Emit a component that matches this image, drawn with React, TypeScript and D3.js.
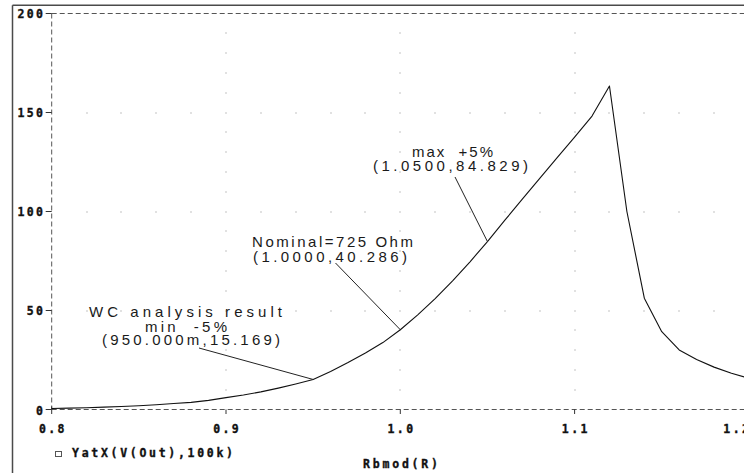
import React from "react";
import * as d3 from "d3";

// ---- data ----
const rbmod: number[] = [
  0.8, 0.81, 0.82, 0.83, 0.84, 0.85, 0.86, 0.87, 0.88, 0.89,
  0.9, 0.91, 0.92, 0.93, 0.94, 0.95, 0.96, 0.97, 0.98, 0.99,
  1.0, 1.01, 1.02, 1.03, 1.04, 1.05, 1.06, 1.07, 1.08, 1.09,
  1.1, 1.11, 1.12, 1.13, 1.14, 1.15, 1.16, 1.17, 1.18, 1.19, 1.2,
];
const yatx: number[] = [
  0.5, 0.7, 0.9, 1.2, 1.5, 1.9, 2.4, 3.0, 3.6, 4.6,
  6.0, 7.3, 8.9, 10.8, 12.9, 15.169, 19.2, 23.7, 28.5, 33.8,
  40.286, 47.8, 56.0, 65.0, 74.6, 84.829, 95.6, 106.2, 116.7, 127.2,
  137.6, 148.2, 163.4, 100, 56.2, 39.3, 30.1, 25.2, 21.4, 18.3, 15.8,
];
const xTicks: number[] = [0.8, 0.9, 1.0, 1.1, 1.2];
const xTickLabels: string[] = ["0.8", "0.9", "1.0", "1.1", "1.2"];
const yTicks: number[] = [0, 50, 100, 150, 200];
const yTickLabels: string[] = ["0", "50", "100", "150", "200"];
const legendLabel = "YatX(V(Out),100k)";
const xTitle = "Rbmod(R)";

// annotations: data point + text lines
const annPoints: [number, number][] = [
  [0.95, 15.169],
  [1.0, 40.286],
  [1.05, 84.829],
];
const annTexts: string[][] = [
  ["WC analysis result", "min  -5%", "(950.000m,15.169)"],
  ["Nominal=725 Ohm", "(1.0000,40.286)"],
  ["max  +5%", "(1.0500,84.829)"],
];

// ---- layout (pixels) ----
const W = 744;
const H = 473;
const plotLeft = 51.7;
const plotRight = 748.9;
const plotTop = 13.5;
const plotBottom = 409.5;

// annotation label layout: per line [x start, baseline, width], leader start
const annLayout = [
  { lines: [[89, 317, 193], [145, 331.5, 82], [102, 345, 178]], leader: [199, 348] },
  { lines: [[252, 247, 161], [253, 262, 154]], leader: [335.5, 263] },
  { lines: [[412, 157, 81], [373, 170.5, 155]], leader: [455, 177] },
];

const tickFont = "'DejaVu Sans Mono', monospace";
const annFont = "'Liberation Sans', Arial, sans-serif";

export default function App() {
  const x = d3.scaleLinear().domain([0.8, 1.2]).range([plotLeft, plotRight]);
  const y = d3.scaleLinear().domain([0, 200]).range([plotBottom, plotTop]);

  const line = d3
    .line<number>()
    .x((_, i) => x(rbmod[i]))
    .y((d) => y(d));

  // grid dots
  const dots: [number, number][] = [];
  const rowX = d3.range(82, 121, 2).map((i) => i / 100);
  [50, 100, 150].forEach((gy) => rowX.forEach((gx) => dots.push([gx, gy])));
  const colY = d3.range(10, 200, 10);
  [0.9, 1.0, 1.1, 1.2].forEach((gx) =>
    colY.forEach((gy) => {
      if (gy % 50 !== 0) dots.push([gx, gy]);
    })
  );

  const charW = 9.35;
  const tl = (s: string) => s.length * charW - 2.5;
  const boldProps = {
    fontFamily: tickFont,
    fontWeight: "bold" as const,
    fontSize: 11.5,
    fill: "#111",
    stroke: "#111",
    strokeWidth: 0.35,
  };

  return (
    <svg
      width={W}
      height={H}
      viewBox={`0 0 ${W} ${H}`}
      style={{ position: "absolute", left: 0, top: 0, background: "#fff", display: "block" }}
    >
      <rect x={0} y={0} width={W} height={H} fill="#fff" />
      {/* outer frame */}
      <line x1={12.5} y1={5.3} x2={W} y2={5.3} stroke="#4a4a4a" strokeWidth={1.5} />
      <line x1={12.5} y1={5.3} x2={12.5} y2={H} stroke="#4a4a4a" strokeWidth={1.5} />

      {/* grid dots */}
      {dots.map(([gx, gy], i) => (
        <rect key={i} x={Math.round(x(gx)) - 0.5} y={Math.round(y(gy)) - 0.5} width={1} height={1} fill="#888" />
      ))}

      {/* dashed axes box */}
      <line x1={plotLeft} y1={plotTop} x2={W} y2={plotTop} stroke="#555" strokeWidth={1} strokeDasharray="5,3" />
      <line x1={plotLeft} y1={plotBottom} x2={W} y2={plotBottom} stroke="#555" strokeWidth={1} strokeDasharray="5,3" />
      <line x1={plotLeft} y1={plotTop} x2={plotLeft} y2={plotBottom} stroke="#555" strokeWidth={1} strokeDasharray="5,3" />

      {/* ticks */}
      {yTicks.map((t) => (
        <line key={"yt" + t} x1={plotLeft - 6} x2={plotLeft} y1={y(t)} y2={y(t)} stroke="#333" strokeWidth={1} />
      ))}
      {xTicks.map((t) => (
        <line key={"xt" + t} x1={x(t)} x2={x(t)} y1={plotBottom - (t === 0.8 ? 3 : 0)} y2={plotBottom + 4.5} stroke="#333" strokeWidth={1} />
      ))}

      {/* y tick labels */}
      {yTicks.map((t, i) => (
        <text
          key={"yl" + t}
          x={43}
          y={y(t) + 4 + (t === 0 ? 1.5 : 0) + (t === 200 ? 0.5 : 0)}
          textAnchor="end"
          {...boldProps}
          textLength={yTickLabels[i].length > 1 ? tl(yTickLabels[i]) : undefined}
          lengthAdjust="spacing"
        >
          {yTickLabels[i]}
        </text>
      ))}

      {/* x tick labels */}
      {xTicks.map((t, i) => {
        const last = i === xTicks.length - 1;
        const w = tl(xTickLabels[i]);
        const xs = last ? x(t) - w : x(t) - w / 2;
        return (
          <text
            key={"xl" + t}
            x={xs}
            y={432.5}
            {...boldProps}
            textLength={w}
            lengthAdjust="spacing"
          >
            {xTickLabels[i]}
          </text>
        );
      })}

      {/* curve */}
      <path d={line(yatx) || ""} fill="none" stroke="#111" strokeWidth={1.1} strokeLinejoin="round" />

      {/* annotations */}
      {annPoints.map(([px, py], i) => {
        const L = annLayout[i];
        return (
          <g key={"ann" + i}>
            <line x1={L.leader[0]} y1={L.leader[1]} x2={x(px)} y2={y(py)} stroke="#222" strokeWidth={1} />
            {annTexts[i].map((s, j) => (
              <text
                key={j}
                x={L.lines[j][0]}
                y={L.lines[j][1]}
                fontFamily={annFont}
                fontSize={15}
                fill="#1a1a1a"
                textLength={L.lines[j][2]}
                lengthAdjust="spacing"
                style={{ whiteSpace: "pre" }}
              >
                {s}
              </text>
            ))}
          </g>
        );
      })}

      {/* legend */}
      <rect x={55.5} y={451.5} width={6} height={5} fill="#fff" stroke="#555" strokeWidth={1} />
      <text x={72} y={456.7} {...boldProps} textLength={161} lengthAdjust="spacing">
        {legendLabel}
      </text>

      {/* x axis title */}
      <text x={363} y={468} {...boldProps} textLength={75} lengthAdjust="spacing">
        {xTitle}
      </text>
    </svg>
  );
}
